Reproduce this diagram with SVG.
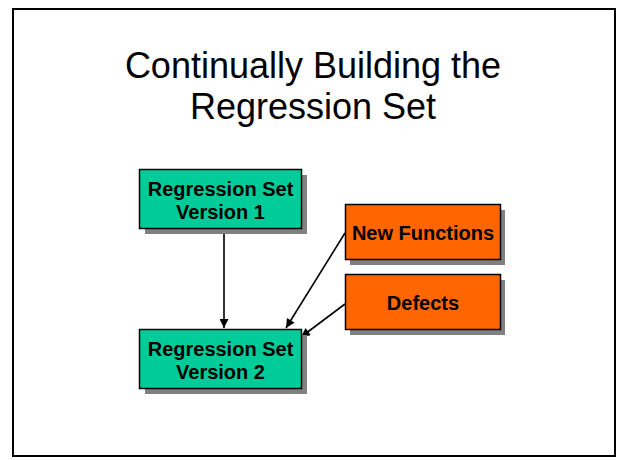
<svg xmlns="http://www.w3.org/2000/svg" width="618" height="460" viewBox="0 0 618 460">
  <style>
    .frame { fill: #ffffff; stroke: #000000; stroke-width: 2; }
    .title { font-family: "Liberation Sans", Arial, sans-serif; font-size: 36px; fill: #000000; text-anchor: middle; }
    .shadow { fill: #808080; }
    .teal { fill: #00CC99; stroke: #000000; stroke-width: 1.5; }
    .orange { fill: #FF6600; stroke: #000000; stroke-width: 1.5; }
    .label { font-family: "Liberation Sans", Arial, sans-serif; font-size: 20px; font-weight: bold; fill: #000000; text-anchor: middle; }
    .conn { stroke: #000000; stroke-width: 1.6; fill: none; marker-end: url(#arrow); }
  </style>
  <defs>
    <marker id="arrow" viewBox="0 0 10 10" refX="10" refY="5" markerWidth="10" markerHeight="9" markerUnits="userSpaceOnUse" orient="auto">
      <path d="M0,0 L10,5 L0,10 z" fill="#000000"/>
    </marker>
  </defs>

  <rect class="frame" x="13" y="9" width="602" height="447"/>

  <text class="title" x="313" y="78">Continually Building the</text>
  <text class="title" x="313" y="119">Regression Set</text>

  <g id="connectors">
    <line class="conn" x1="224" y1="229" x2="224" y2="328"/>
    <line class="conn" x1="345" y1="233" x2="286" y2="328"/>
    <line class="conn" x1="345" y1="304" x2="301" y2="337"/>
  </g>

  <g id="regression-v1">
    <rect class="shadow" x="145" y="175" width="162" height="59"/>
    <rect class="teal" x="139.5" y="169.5" width="162" height="59"/>
    <text class="label" x="220.5" y="196">Regression Set</text>
    <text class="label" x="220.5" y="219">Version 1</text>
  </g>

  <g id="regression-v2">
    <rect class="shadow" x="145" y="335" width="162" height="59"/>
    <rect class="teal" x="139.5" y="329.5" width="162" height="59"/>
    <text class="label" x="220.5" y="356">Regression Set</text>
    <text class="label" x="220.5" y="379">Version 2</text>
  </g>

  <g id="new-functions">
    <rect class="shadow" x="350" y="210" width="155" height="55"/>
    <rect class="orange" x="345.5" y="204.5" width="155" height="55"/>
    <text class="label" x="423" y="240">New Functions</text>
  </g>

  <g id="defects">
    <rect class="shadow" x="350" y="280" width="155" height="55"/>
    <rect class="orange" x="345.5" y="274.5" width="155" height="55"/>
    <text class="label" x="423" y="310">Defects</text>
  </g>
</svg>
